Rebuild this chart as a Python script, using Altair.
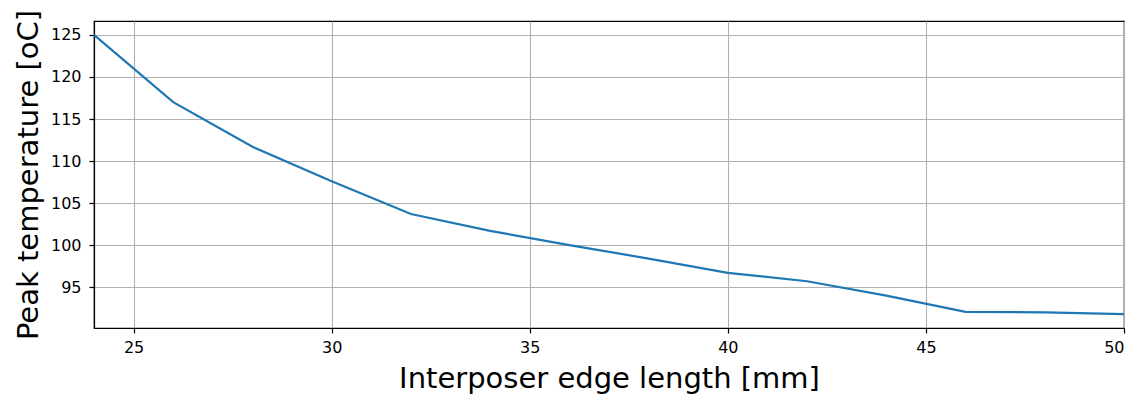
import altair as alt
import pandas as pd

edge_mm = [24, 26, 28, 30, 32, 34, 36, 38, 40, 42, 44, 46, 48, 50]
peak_temp = [125.0, 117.0, 111.7, 107.6, 103.7, 101.7, 100.0, 98.4, 96.7, 95.7, 94.0, 92.05, 92.0, 91.8]
x_ticks = [25, 30, 35, 40, 45, 50]
y_ticks = [95, 100, 105, 110, 115, 120, 125]

df = pd.DataFrame({"x": edge_mm, "y": peak_temp})

font = "DejaVu Sans"

chart = alt.Chart(df).mark_line(color="#1f77b4", strokeWidth=2.2).encode(
    x=alt.X("x:Q", scale=alt.Scale(domain=[24, 50], nice=False, zero=False),
            axis=alt.Axis(title="Interposer edge length [mm]", values=x_ticks, format="d")),
    y=alt.Y("y:Q", scale=alt.Scale(domain=[90.14, 126.66], nice=False, zero=False),
            axis=alt.Axis(title="Peak temperature [oC]", values=y_ticks, format="d")),
).properties(
    width=1030, height=307,
    autosize=alt.AutoSizeParams(type="none"),
    padding={"left": 94, "top": 21, "right": 23, "bottom": 67},
).configure_view(
    stroke="black", strokeWidth=1.2
).configure_axis(
    labelFont=font, titleFont=font, labelFontSize=16, titleFontSize=29,
    titleFontWeight="normal", labelColor="black", titleColor="black",
    domainColor="black", domainWidth=1.2, tickColor="black", tickSize=5, tickWidth=1.2,
    gridColor="#b0b0b0", gridWidth=1.1, gridOpacity=1, labelPadding=6,
).configure_axisX(
    titlePadding=9
).configure_axisY(
    titlePadding=7, labelPadding=8
)

chart.save("out.html", embed_options={"renderer": "svg", "actions": False})
